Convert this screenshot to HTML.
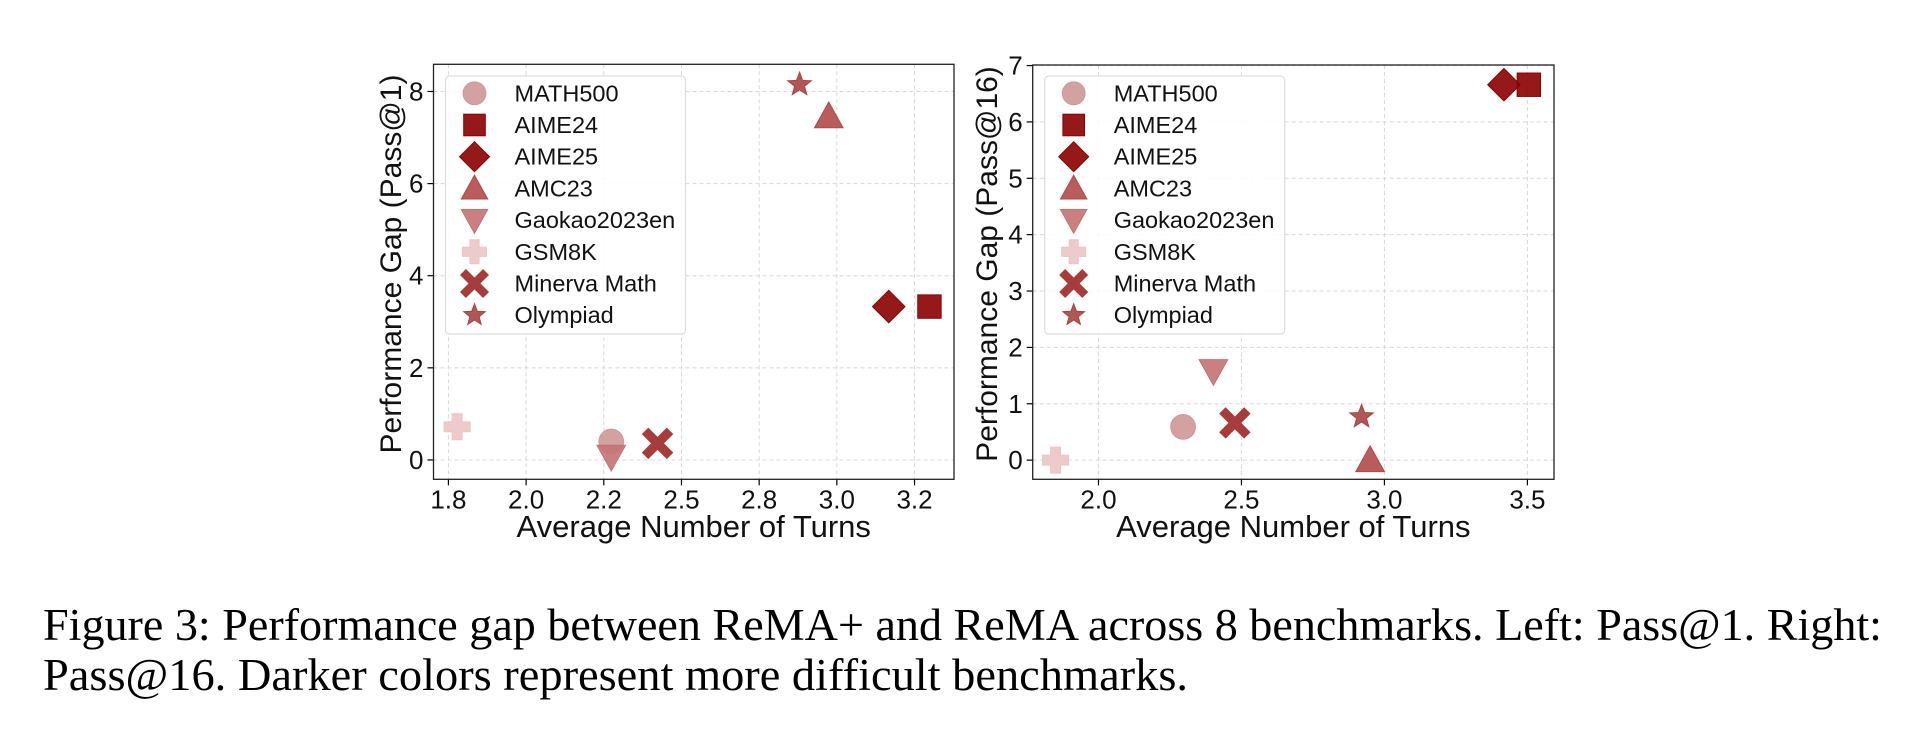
<!DOCTYPE html>
<html><head><meta charset="utf-8"><style>
html,body{margin:0;padding:0;background:#fff;}
svg{display:block;}
text{font-family:"Liberation Sans","DejaVu Sans",sans-serif;}
</style></head><body>
<svg id="fig" width="1928" height="752" viewBox="0 0 1928 752" xmlns="http://www.w3.org/2000/svg">
<text x="43" y="640" style="font-family:'Liberation Serif',serif" font-size="45" textLength="1839" lengthAdjust="spacingAndGlyphs">Figure 3: Performance gap between ReMA+ and ReMA across 8 benchmarks. Left: Pass@1. Right:</text>
<text x="43" y="690" style="font-family:'Liberation Serif',serif" font-size="45" textLength="1145" lengthAdjust="spacingAndGlyphs">Pass@16. Darker colors represent more difficult benchmarks.</text>
</svg>
<script>
const names = ["MATH500","AIME24","AIME25","AMC23","Gaokao2023en","GSM8K","Minerva Math","Olympiad"];
const colors = ["#cf9797","#8b0000","#8b0000","#b04a4a","#c47272","#ecc4c4","#a83c3c","#a84444"];
const shapes = ["circle","square","diamond","tri-up","tri-down","plus","x","star"];
const leftX = [2.274,3.298,3.167,2.974,2.274,1.778,2.423,2.880];
const leftY = [0.40,3.33,3.33,7.46,0.07,0.72,0.36,8.15];
const rightX = [2.296,3.505,3.418,2.95,2.402,1.85,2.477,2.92];
const rightY = [0.59,6.66,6.66,0.0,1.58,0.0,0.66,0.77];
const leftXTicks = [1.75,2.0,2.25,2.5,2.75,3.0,3.25];
const leftXTickLabels = ["1.8","2.0","2.2","2.5","2.8","3.0","3.2"];
const leftYTicks = [0,2,4,6,8];
const rightXTicks = [2.0,2.5,3.0,3.5];
const rightXTickLabels = ["2.0","2.5","3.0","3.5"];
const rightYTicks = [0,1,2,3,4,5,6,7];

const NS="http://www.w3.org/2000/svg";
const svg=document.getElementById('fig');
function mk(tag,attrs,parent){const e=document.createElementNS(NS,tag);for(const k in attrs)e.setAttribute(k,attrs[k]);(parent||svg).appendChild(e);return e;}

function marker(g,shape,cx,cy,color,s){
  let e;const st={fill:color,stroke:color,'stroke-width':1,'fill-opacity':0.9};
  if(shape==="circle"){e=mk('circle',Object.assign({cx,cy,r:s*0.95},st),g);}
  else if(shape==="square"){e=mk('rect',Object.assign({x:cx-s*0.9,y:cy-s*0.9,width:s*1.8,height:s*1.8},st),g);}
  else if(shape==="diamond"){const d=s*1.25;e=mk('polygon',Object.assign({points:`${cx},${cy-d} ${cx+d},${cy} ${cx},${cy+d} ${cx-d},${cy}`},st),g);}
  else if(shape==="tri-up"){const d=s*1.1;e=mk('polygon',Object.assign({points:`${cx},${cy-d} ${cx+d},${cy+d*0.8} ${cx-d},${cy+d*0.8}`},st),g);}
  else if(shape==="tri-down"){const d=s*1.1;e=mk('polygon',Object.assign({points:`${cx},${cy+d} ${cx+d},${cy-d*0.8} ${cx-d},${cy-d*0.8}`},st),g);}
  else if(shape==="plus"){const a=s*1.0,b=s*0.38;e=mk('path',Object.assign({d:`M${cx-b},${cy-a}h${2*b}v${a-b}h${a-b}v${2*b}h${-(a-b)}v${a-b}h${-2*b}v${-(a-b)}h${-(a-b)}v${-2*b}h${a-b}z`},st),g);}
  else if(shape==="x"){const a=s*0.95,w=s*0.32;e=mk('g',{},g);
    mk('line',{x1:cx-a*0.75,y1:cy-a*0.75,x2:cx+a*0.75,y2:cy+a*0.75,stroke:color,'stroke-width':w*2.2,'stroke-linecap':'square'},e);
    mk('line',{x1:cx+a*0.75,y1:cy-a*0.75,x2:cx-a*0.75,y2:cy+a*0.75,stroke:color,'stroke-width':w*2.2,'stroke-linecap':'square'},e);}
  else if(shape==="star"){let p=[];const R=s*0.95,r=R*0.42;for(let i=0;i<10;i++){const rr=i%2?r:R;const a=-Math.PI/2+i*Math.PI/5;p.push((cx+rr*Math.cos(a)).toFixed(1)+','+(cy+rr*Math.sin(a)).toFixed(1));}e=mk('polygon',Object.assign({points:p.join(' ')},st),g);}
  return e;
}

function panel(cfg){
  const g=mk('g',{});
  
  
  const {L,R,T,B,xmin,xmax,ymin,ymax}=cfg;
  const sx=v=>L+(v-xmin)/(xmax-xmin)*(R-L);
  const sy=v=>B-(v-ymin)/(ymax-ymin)*(B-T);
  cfg.xt.forEach((v,i)=>{
    const l=mk('line',{x1:sx(v),x2:sx(v),y1:T,y2:B,stroke:'#d8d8d8','stroke-dasharray':'4,3','stroke-width':1},g);
    
    
    mk('line',{x1:sx(v),x2:sx(v),y1:B,y2:B+6,stroke:'#000','stroke-width':1.2},g);
    const t=mk('text',{x:sx(v),y:B+29,'font-size':26,'text-anchor':'middle',fill:'#111'},g);
    
    
    t.textContent=cfg.xtl[i];
  });
  cfg.yt.forEach(v=>{
    const l=mk('line',{x1:L,x2:R,y1:sy(v),y2:sy(v),stroke:'#d8d8d8','stroke-dasharray':'4,3','stroke-width':1},g);
    
    
    mk('line',{x1:L-6,x2:L,y1:sy(v),y2:sy(v),stroke:'#000','stroke-width':1.2},g);
    const t=mk('text',{x:L-10,y:sy(v)+9,'font-size':26,'text-anchor':'end',fill:'#111'},g);
    
    
    t.textContent=String(v);
  });
  cfg.xs.forEach((x,i)=>{
    const m=marker(g,shapes[i],sx(x),sy(cfg.ys[i]),colors[i],13);
    
    
  });
  const f=mk('rect',{x:L,y:T,width:R-L,height:B-T,fill:'none',stroke:'#222','stroke-width':1.3},g);
  
  
  const lg=mk('g',{},g);
  
  
  mk('rect',{x:L+12,y:76,width:240,height:258,rx:4,fill:'#fff','fill-opacity':0.85,stroke:'#ddd','stroke-width':1.2},lg);
  names.forEach((n,i)=>{
    const y=93.3+i*31.7;
    const e=mk('g',{},lg);
    
    
    marker(e,shapes[i],L+41,y,colors[i],12);
    const t=mk('text',{x:L+81,y:y+8,'font-size':23.5,fill:'#111'},e);
    t.textContent=n;
  });
  const xt=mk('text',{x:(L+R)/2,y:537,'font-size':31,'text-anchor':'middle',fill:'#111'},g);
  
  
  xt.textContent='Average Number of Turns';
  const yt=mk('text',{x:0,y:0,'font-size':30,'text-anchor':'middle',fill:'#111',transform:`translate(${cfg.ylx},${cfg.ylc}) rotate(-90)`},g);
  
  
  yt.textContent=cfg.ylabel;
}

panel({name:'left-chart-pass1',L:433.5,R:954,T:64.3,B:479.3,xmin:1.702,xmax:3.377,ymin:-0.42,ymax:8.59,
  xt:leftXTicks,xtl:leftXTickLabels,yt:leftYTicks,xs:leftX,ys:leftY,ylabel:'Performance Gap (Pass@1)',ylx:401,ylc:264});
panel({name:'right-chart-pass16',L:1032.7,R:1554,T:65,B:479.3,xmin:1.77,xmax:3.593,ymin:-0.34,ymax:7.01,
  xt:rightXTicks,xtl:rightXTickLabels,yt:rightYTicks,xs:rightX,ys:rightY,ylabel:'Performance Gap (Pass@16)',ylx:997,ylc:264});
</script>
</body></html>
